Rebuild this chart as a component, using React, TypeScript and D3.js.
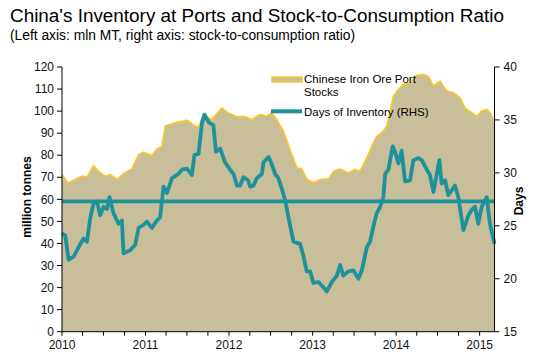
import React from "react";
import * as d3 from "d3";

const stockDates = [
  "2010-01-01","2010-01-28","2010-02-28","2010-03-29","2010-04-20","2010-05-19","2010-06-10","2010-07-09",
  "2010-07-31","2010-08-29","2010-09-27","2010-11-03","2010-12-02","2010-12-24","2011-01-29","2011-02-20",
  "2011-03-14","2011-03-28","2011-04-19","2011-05-25","2011-07-01","2011-08-06","2011-08-21","2011-09-12",
  "2011-10-18","2011-12-01","2011-12-30","2012-02-05","2012-03-12","2012-04-10","2012-05-16","2012-06-15",
  "2012-07-06","2012-07-28","2012-08-26","2012-09-24","2012-10-24","2012-11-15","2012-12-06","2013-01-04",
  "2013-02-03","2013-03-11","2013-04-02","2013-05-01","2013-06-06","2013-07-05","2013-07-27","2013-08-26",
  "2013-09-23","2013-10-08","2013-11-06","2013-11-21","2013-12-20","2014-01-11","2014-02-01","2014-03-03",
  "2014-04-01","2014-04-30","2014-05-22","2014-06-13","2014-07-12","2014-08-10","2014-09-08","2014-10-07",
  "2014-10-29","2014-11-27","2014-12-19","2015-01-10","2015-02-01","2015-02-15","2015-03-07"
];
const stockValues = [
  71.2,67.4,69,70.5,70.2,75.3,72.7,70.5,
  71.2,69,71.7,73.8,80.3,81.4,79.9,82.9,
  84.1,93.2,94,95,95.9,93.2,92.9,98.5,
  96.2,101.5,99,97.5,97.5,96.2,98.5,97.7,
  99.3,96.2,90.9,82.6,74.3,73.8,69.3,67.5,
  69,69.3,72.7,73.8,72,73.5,72.7,78.8,
  85.6,88.6,90.9,93.2,106.8,109.9,112.1,112.9,
  116.2,116.7,115.6,111.4,113.6,109.1,108.4,106.1,
  101.5,99.3,97.7,100,100.8,99.3,95.5
];

const daysDates = [
  "2010-01-01","2010-01-15","2010-01-30","2010-02-21","2010-03-15","2010-04-05","2010-04-20","2010-05-05",
  "2010-05-19","2010-06-03","2010-06-17","2010-07-02","2010-07-17","2010-07-28","2010-08-14","2010-09-05",
  "2010-09-20","2010-09-27","2010-10-26","2010-11-17","2010-12-02","2010-12-24","2011-01-07","2011-01-29",
  "2011-02-20","2011-03-06","2011-03-21","2011-04-05","2011-04-27","2011-05-25","2011-06-09","2011-07-01",
  "2011-07-23","2011-08-03","2011-08-21","2011-09-05","2011-09-16","2011-10-04","2011-10-25","2011-11-05",
  "2011-11-24","2011-12-15","2012-01-06","2012-01-21","2012-02-05","2012-02-19","2012-03-04","2012-03-24",
  "2012-04-03","2012-04-17","2012-05-02","2012-05-24","2012-05-31","2012-06-22","2012-07-03","2012-07-21",
  "2012-08-04","2012-08-19","2012-09-03","2012-09-17","2012-10-09","2012-11-07","2012-11-22","2012-12-06",
  "2012-12-21","2013-01-04","2013-01-26","2013-02-17","2013-03-04","2013-03-26","2013-04-17","2013-05-01",
  "2013-05-15","2013-06-06","2013-06-28","2013-07-20","2013-08-04","2013-08-26","2013-09-09","2013-09-23",
  "2013-10-08","2013-10-23","2013-11-06","2013-11-14","2013-11-28","2013-12-17","2013-12-27","2014-01-11",
  "2014-01-25","2014-02-09","2014-03-03","2014-03-17","2014-04-08","2014-04-23","2014-05-15","2014-05-29",
  "2014-06-13","2014-07-09","2014-07-19","2014-08-03","2014-08-17","2014-09-15","2014-09-30","2014-10-22",
  "2014-11-13","2014-11-27","2014-12-12","2014-12-26","2015-01-10","2015-02-01","2015-02-15","2015-03-07"
];
const daysValues = [
  24.3,24.1,21.8,22.1,23,23.8,23.5,25.8,
  27.1,27.3,26,26.8,26.6,27.7,26.2,25.2,
  25.5,22.4,22.7,23.2,24.8,25.1,25.4,24.8,
  25.5,25.8,28.7,28.1,29.5,29.9,30.3,30.4,
  29.8,31.7,31.8,34.7,35.5,34.8,34.5,32,
  32.3,31,30.3,29.9,28.8,28.8,29.6,29.3,
  28.7,28.8,29.5,29.9,31,31.5,31,29.9,
  29.5,28.5,27.4,25.8,23.5,23.3,22.1,20.7,
  20.7,19.6,19.7,19.2,18.8,19.7,20.3,21.3,
  20.3,20.7,20.8,20,20.8,23,23.5,24.9,
  26.2,26.8,27.7,29.9,30.3,32.5,32,30.9,
  32.1,29.2,29.3,31.2,31.4,31.2,30.3,29.8,
  28.2,31.2,29,29.3,27.9,28.8,27.7,24.6,
  26,26.5,26.8,25.2,26.8,27.7,25.2,23.3
];

const averageDays = 27.3;

const leftTicks = [0, 10, 20, 30, 40, 50, 60, 70, 80, 90, 100, 110, 120];
const rightTicks = [15, 20, 25, 30, 35, 40];
const yearLabels = ["2010", "2011", "2012", "2013", "2014", "2015"];

const title = "China's Inventory at Ports and Stock-to-Consumption Ratio";
const subtitle = "(Left axis: mln MT, right axis: stock-to-consumption ratio)";
const legendStocks = ["Chinese Iron Ore Port", "Stocks"];
const legendDays = "Days of Inventory (RHS)";

const W = 533, H = 357;
const plot = { left: 62, right: 494.5, top: 67, bottom: 331.7 };
const FONT = "Arial, 'Liberation Sans', sans-serif";
const TAN = "#C8BE99";
const GOLD = "#FFC726";
const TEAL = "#1E929B";

export default function App() {
  const parse = d3.timeParse("%Y-%m-%d");
  const start = parse("2010-01-01")!;
  const end = parse(stockDates[stockDates.length - 1])!;
  const x = d3.scaleTime().domain([start, end]).range([plot.left, plot.right]);
  const yL = d3.scaleLinear().domain([0, 120]).range([plot.bottom, plot.top]);
  const yR = d3.scaleLinear().domain([15, 40]).range([plot.bottom, plot.top]);

  const stocks = stockDates.map((d, i) => ({ date: parse(d)!, v: stockValues[i] }));
  const days = daysDates.map((d, i) => ({ date: parse(d)!, v: daysValues[i] }));

  const area = d3.area<{ date: Date; v: number }>()
    .x(d => x(d.date)).y0(yL(0)).y1(d => yL(d.v));
  const topLine = d3.line<{ date: Date; v: number }>()
    .x(d => x(d.date)).y(d => yL(d.v));
  const daysLine = d3.line<{ date: Date; v: number }>()
    .x(d => x(d.date)).y(d => yR(d.v)).curve(d3.curveLinear);

  const quarterTicks = d3.timeMonth.every(3)!.range(start, d3.timeDay.offset(end, 1));
  const yearDates = yearLabels.map(y => parse(`${y}-01-01`)!);

  return (
    <svg width={W} height={H} style={{ position: "absolute", left: 0, top: 0, background: "#fff" }}
      fontFamily={FONT}>
      <text x={10} y={21.5} fontSize={18.9} fill="#000">{title}</text>
      <text x={10} y={39.5} fontSize={13.8} fill="#000">{subtitle}</text>

      <path d={area(stocks)!} fill={TAN} />
      <path d={topLine(stocks)!} fill="none" stroke={GOLD} strokeWidth={1.6} strokeLinejoin="round" />

      <line x1={plot.left} x2={plot.right} y1={yR(averageDays)} y2={yR(averageDays)}
        stroke={TEAL} strokeWidth={3.8} />
      <path d={daysLine(days)!} fill="none" stroke={TEAL} strokeWidth={3.8} strokeLinejoin="round" />

      {/* axes */}
      <line x1={plot.left} x2={plot.left} y1={plot.top} y2={plot.bottom} stroke="#000" strokeWidth={1} />
      <line x1={plot.right} x2={plot.right} y1={plot.top} y2={plot.bottom} stroke="#000" strokeWidth={1} />
      <line x1={plot.left} x2={plot.right} y1={plot.bottom} y2={plot.bottom} stroke="#000" strokeWidth={1} />

      {leftTicks.map(t => (
        <g key={"l" + t}>
          <line x1={plot.left - 5} x2={plot.left} y1={yL(t)} y2={yL(t)} stroke="#000" />
          <text x={plot.left - 8} y={yL(t)} dy="0.35em" textAnchor="end" fontSize={12} fill="#111">{t}</text>
        </g>
      ))}
      {rightTicks.map(t => (
        <g key={"r" + t}>
          <line x1={plot.right} x2={plot.right + 5} y1={yR(t)} y2={yR(t)} stroke="#000" />
          <text x={plot.right + 9} y={yR(t)} dy="0.35em" textAnchor="start" fontSize={12} fill="#111">{t}</text>
        </g>
      ))}
      {quarterTicks.map((d, i) => (
        <line key={"q" + i} x1={x(d)} x2={x(d)} y1={plot.bottom} y2={plot.bottom + 4} stroke="#000" />
      ))}
      {yearDates.map((d, i) => (
        <text key={"y" + i} x={x(d)} y={349} textAnchor="middle" fontSize={12} fill="#111">{yearLabels[i]}</text>
      ))}

      <text transform={`translate(31,197) rotate(-90)`} textAnchor="middle" fontSize={12}
        fontWeight="bold" fill="#000">million tonnes</text>
      <text transform={`translate(523,201) rotate(-90)`} textAnchor="middle" fontSize={12}
        fontWeight="bold" fill="#000">Days</text>

      {/* legend */}
      <rect x={272} y={77} width={30} height={5} fill={TAN} stroke={GOLD} strokeWidth={1.5} />
      <text x={304} y={83} fontSize={11.5} fill="#000">{legendStocks[0]}</text>
      <text x={304} y={96} fontSize={11.5} fill="#000">{legendStocks[1]}</text>
      <line x1={271} x2={302} y1={111.3} y2={111.3} stroke={TEAL} strokeWidth={4} />
      <text x={304} y={115.5} fontSize={11.5} fill="#000">{legendDays}</text>
    </svg>
  );
}
